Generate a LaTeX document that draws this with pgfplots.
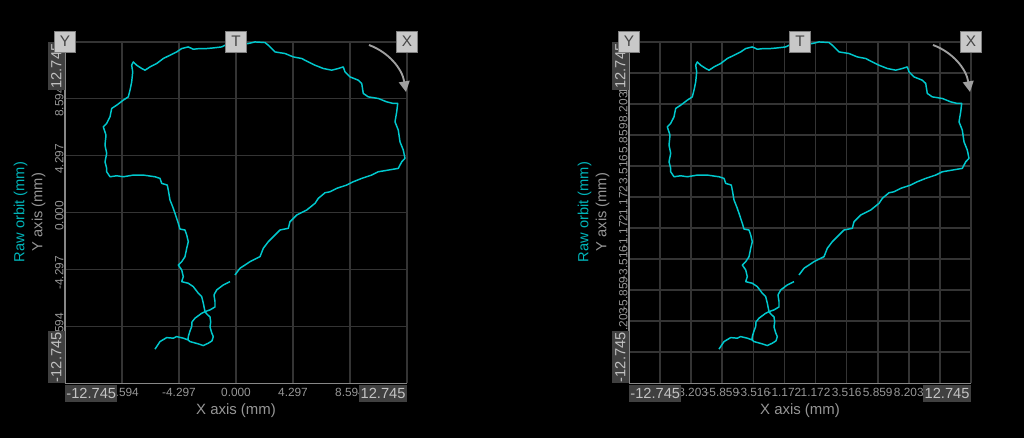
\documentclass[border=0pt]{standalone}
\usepackage{pgfplots}
\pgfplotsset{compat=1.18}
\usepackage{pgfplotstable}
\usepackage{fontspec}
\setmainfont{Liberation Sans}
\usetikzlibrary{arrows.meta}
\definecolor{gridc}{RGB}{52,52,52}
\definecolor{axc}{RGB}{135,135,135}
\definecolor{tickc}{RGB}{150,150,150}
\definecolor{boxc}{RGB}{64,64,64}
\definecolor{boxt}{RGB}{195,195,195}
\definecolor{trace}{RGB}{0,200,205}
\definecolor{labc}{RGB}{0,180,185}
\definecolor{tbox}{RGB}{200,200,200}
\definecolor{tboxt}{RGB}{70,70,70}
\definecolor{arrc}{RGB}{160,160,160}

\pgfplotstableread{
x y
-6.037 -10.196
-5.664 -9.630
-5.165 -9.331
-4.673 -9.376
-4.420 -9.257
-3.928 -9.376
-3.578 -9.503
-3.428 -9.630
-2.810 -9.801
-2.437 -9.928
-2.065 -9.749
-1.789 -9.577
-1.692 -9.257
-1.811 -8.981
-1.938 -8.534
-1.886 -8.161
-1.938 -7.789
-2.184 -7.565
-2.310 -7.394
-2.437 -6.767
-2.556 -6.276
-2.810 -6.022
-3.183 -5.530
-3.555 -5.277
-4.047 -5.158
-3.928 -4.785
-4.047 -4.286
-4.300 -3.913
-4.047 -3.667
-3.801 -3.294
-3.674 -2.668
-3.555 -2.176
-3.674 -1.677
-3.801 -1.304
-4.174 -1.230
-4.300 -0.805
-4.546 -0.060
-4.718 0.432
-4.919 0.932
-5.046 1.677
-5.120 2.050
-5.538 2.176
-5.664 2.549
-6.037 2.668
-6.909 2.795
-7.654 2.795
-8.400 2.668
-8.892 2.743
-9.391 2.668
-9.637 3.041
-9.637 3.294
-9.764 3.786
-9.637 4.412
-9.764 5.031
-9.689 5.776
-9.890 6.395
-9.637 6.648
-9.391 7.140
-9.264 7.766
-8.892 8.012
-8.400 8.385
-8.027 8.631
-7.900 9.130
-7.774 9.749
-7.699 10.494
-7.774 10.993
-7.654 11.239
-7.401 10.993
-7.028 10.748
-6.782 10.621
-6.410 10.867
-5.910 11.120
-5.418 11.493
-4.919 11.739
-4.420 11.985
-4.047 12.238
-3.555 12.357
-3.183 12.186
-2.683 12.238
-2.184 12.238
-1.692 12.283
-1.066 12.357
-0.820 12.484
0.000 12.559
0.917 12.611
1.416 12.730
2.161 12.685
2.407 12.484
2.907 11.985
3.652 11.865
4.271 11.612
4.897 11.493
5.389 11.239
5.888 10.993
6.507 10.748
7.133 10.621
7.625 10.748
7.997 10.867
8.124 10.494
8.497 10.121
9.115 9.875
9.369 9.630
9.488 8.884
9.861 8.631
10.606 8.512
11.232 8.258
11.724 8.139
12.052 8.139
11.977 7.513
11.851 6.767
12.096 6.149
12.223 5.277
12.469 4.658
12.596 4.040
12.350 3.786
12.096 3.294
11.351 3.168
10.606 3.041
10.114 2.795
9.369 2.549
8.743 2.296
8.251 2.050
7.505 1.804
7.006 1.550
6.633 1.476
6.134 1.058
5.888 0.686
5.269 0.186
4.524 -0.186
4.025 -0.686
3.898 -1.178
3.279 -1.304
2.780 -1.804
2.407 -2.176
2.035 -2.668
1.789 -3.294
1.043 -3.667
0.298 -4.159
-0.075 -4.658
nan nan
-0.447 -5.158
-0.947 -5.404
-1.438 -5.776
-1.640 -6.149
-1.565 -6.648
-1.565 -7.043
-1.938 -7.267
-2.310 -7.394
-2.556 -7.513
-3.056 -7.885
-3.279 -8.161
-3.302 -8.512
-3.428 -8.832
-3.555 -9.257
-3.578 -9.503
}\orbit

\pgfplotsset{
  orb/.style={
    anchor=south west,
    width=256.5bp, height=256.2bp, scale only axis,
    xmin=-12.745, xmax=12.745, ymin=-12.745, ymax=12.745,
    axis x line*=bottom, axis y line*=left,
    axis line style={draw=axc, line width=1.1bp},
    xmajorgrids, ymajorgrids,
    major grid style={draw=gridc, line width=1.2bp},
    major tick length=0pt,
    tick label style={text=tickc, font=\fontsize{8.9bp}{10bp}\selectfont, inner sep=1bp},
    xticklabel style={anchor=north, yshift=-2.5bp},
    yticklabel style={rotate=90, anchor=south, xshift=-2.5bp},
    unbounded coords=jump,
    clip=false,
  }
}

\begin{document}
\begin{tikzpicture}[x=0.75bp,y=0.75bp]
\fill[black] (0,0) rectangle (1024,438);

% left
\begin{axis}[orb, at={(48.75bp,41bp)}, name=L,
  xtick={-12.745,-8.4967,-4.2483,0,4.2483,8.4967,12.745},
  xticklabels={,-8.594,-4.297,0.000,4.297,8.594,},
  ytick={-12.745,-8.4967,-4.2483,0,4.2483,8.4967,12.745},
  yticklabels={,-8.594,-4.297,0.000,4.297,8.594,}]
\addplot[trace, line width=1.1bp, line join=round] table[x=x,y=y] {\orbit};
\end{axis}

% right
\begin{axis}[orb, at={(471.75bp,41bp)}, name=R,
  xtick={-12.745,-10.4277,-8.1105,-5.7932,-3.4759,-1.1586,1.1586,3.4759,5.7932,8.1105,10.4277,12.745},
  xticklabels={,-10.547,-8.203,-5.859,-3.516,-1.172,1.172,3.516,5.859,8.203,10.547,},
  ytick={-12.745,-10.4277,-8.1105,-5.7932,-3.4759,-1.1586,1.1586,3.4759,5.7932,8.1105,10.4277,12.745},
  yticklabels={,-10.547,-8.203,-5.859,-3.516,-1.172,1.172,3.516,5.859,8.203,10.547,}]
\addplot[trace, line width=1.1bp, line join=round] table[x=x,y=y] {\orbit};
\end{axis}

\foreach \o in {0,564}{
  % x range boxes
  \node[fill=boxc, text=boxt, inner sep=0pt, minimum width=39bp, minimum height=12.75bp,
        anchor=north west, font=\fontsize{11bp}{12bp}\selectfont] at (65+\o,53) {-12.745};
  \node[fill=boxc, text=boxt, inner sep=0pt, minimum width=35.5bp, minimum height=12.75bp,
        anchor=north east, font=\fontsize{11bp}{12bp}\selectfont] at (407+\o,53) {12.745};
  % y range boxes
  \node[rotate=90, fill=boxc, text=boxt, inner sep=0pt, minimum width=36bp, minimum height=12.75bp,
        anchor=south east, font=\fontsize{11bp}{12bp}\selectfont] at (65+\o,396.3) {12.745};
  \node[rotate=90, fill=boxc, text=boxt, inner sep=0pt, minimum width=38.7bp, minimum height=12.75bp,
        anchor=south west, font=\fontsize{11bp}{12bp}\selectfont] at (65+\o,54.7) {-12.745};
  % Y T X boxes
  \foreach \px/\t in {65/Y,236/T,407/X}{
    \node[fill=tbox, draw=gray, line width=0.5bp, text=tboxt, inner sep=0pt,
          minimum size=15.75bp, font=\fontsize{11.5bp}{12bp}\selectfont] at (\px+\o,396.5) {\t};
  }
  % rotation arrow
  \draw[arrc, line width=1.4bp, -{Triangle[length=8bp,width=8bp]}]
     (369+\o,393) .. controls (388+\o,386) and (402+\o,370) .. (406+\o,346);
  % axis labels
  \node[text=tickc, font=\fontsize{11.2bp}{12bp}\selectfont] at (236+\o,27.3) {X axis (mm)};
  \node[rotate=90, text=tickc, font=\fontsize{11bp}{12bp}\selectfont] at (38.5+\o,226) {Y axis (mm)};
  \node[rotate=90, text=labc, font=\fontsize{11bp}{12bp}\selectfont] at (20.5+\o,226) {Raw orbit (mm)};
}
\pgfresetboundingbox
\useasboundingbox (0,0) rectangle (1024,438);
\end{tikzpicture}
\end{document}
